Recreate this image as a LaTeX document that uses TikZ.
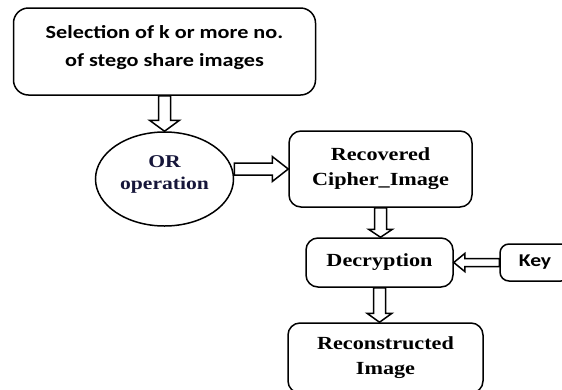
\documentclass[tikz,border=0pt]{standalone}
\usepackage{fontspec}
\usepackage{xcolor}
\usepackage{tikz}
\usetikzlibrary{
    shapes.geometric,
    calc
}
\newfontfamily\selfont[FakeStretch=1.2]{Carlito}
\newfontfamily\stepfont[FakeStretch=1.2]{Liberation Serif}
\definecolor{opblue}{RGB}{22,22,58}
\tikzset{
    shaftw/.store in=\shaftw,
    headw/.store in=\headw,
    headlen/.store in=\headlen
}
\tikzstyle{roundbox} = [
    draw,
    line width=1.5pt,
    rounded corners=12pt,
    align=center,
    inner sep=0pt
]
\tikzstyle{serifbox} = [
    roundbox,
    font=\stepfont\bfseries\fontsize{18.5}{25}\selectfont
]
\tikzstyle{hollow} = [
    draw,
    line width=1.5pt,
    line join=miter,
    shaftw=6pt,
    headw=15pt,
    headlen=11pt,
    to path={
        ($(\tikztostart)!\shaftw!90:(\tikztotarget)$)
        -- ($($(\tikztotarget)!\headlen!(\tikztostart)$)!\shaftw!90:(\tikztotarget)$)
        -- ($($(\tikztotarget)!\headlen!(\tikztostart)$)!\headw!90:(\tikztotarget)$)
        -- (\tikztotarget)
        -- ($($(\tikztotarget)!\headlen!(\tikztostart)$)!\headw!-90:(\tikztotarget)$)
        -- ($($(\tikztotarget)!\headlen!(\tikztostart)$)!\shaftw!-90:(\tikztotarget)$)
        -- ($(\tikztostart)!\shaftw!-90:(\tikztotarget)$)
        -- cycle
    }
]
\begin{document}
\begin{tikzpicture}[x=1pt, y=-1pt]
\useasboundingbox (0,0) rectangle (562,389);
\clip (0,0) rectangle (562,389);
\node[roundbox, rounded corners=15pt, minimum width=302pt, minimum height=87pt, text depth=12pt, font=\selfont\bfseries\fontsize{18.5}{28}\selectfont] (sel) at (164.5,51.5) {Selection of k or more no.\\of stego share images};
\node[draw, ellipse, line width=1.5pt, minimum width=138pt, minimum height=94pt, inner sep=0pt, text depth=13pt, align=center, text=opblue, font=\stepfont\bfseries\fontsize{18}{22}\selectfont] (orop) at (164.5,179) {OR\\operation};
\node[serifbox, minimum width=183pt, minimum height=76pt] (recov) at (380.5,169) {Recovered\\Cipher\_Image};
\node[serifbox, minimum width=147pt, minimum height=49pt] (decr) at (379.5,262.5) {Decryption};
\node[roundbox, rounded corners=9pt, minimum width=70pt, minimum height=37pt, font=\selfont\bfseries\fontsize{18}{22}\selectfont] (key) at (535,262.5) {Key};
\node[serifbox, minimum width=195pt, minimum height=70pt] (recon) at (385.5,358) {Reconstructed\\Image};

\draw[hollow] (sel.south) to (orop.north);
\draw[hollow, headw=12.5pt, headlen=16pt] (orop.east |- recov.west) to (recov.west);
\draw[hollow, headw=12pt, headlen=8pt] (recov.south) to (recov.south |- decr.north);
\draw[hollow, headw=12.5pt, headlen=9pt] (decr.south) to (decr.south |- recon.north);
\draw[hollow, shaftw=4pt, headw=9pt, headlen=11pt] (key.west) to (key.west -| decr.east);
\end{tikzpicture}
\end{document}
